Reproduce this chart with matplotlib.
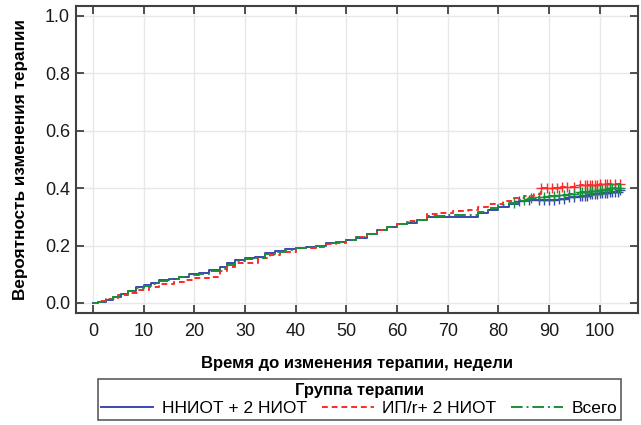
import numpy as np
import matplotlib
matplotlib.use("Agg")
import matplotlib.pyplot as plt

plt.rcParams['font.family'] = ['Liberation Sans', 'DejaVu Sans']

# cumulative probability of therapy change (step curves)
t_nnrti = [0, 1, 2.5, 4, 5.5, 7, 8.5, 10, 11.5, 13, 15, 17, 19, 21, 23, 25, 26.5, 28, 30, 32, 34,
           36, 38, 40, 42, 44, 46, 48, 50, 52, 54, 56, 58, 60, 62, 64, 66, 70, 74, 76, 78, 80, 82,
           84, 86, 90, 92, 94, 96, 98, 100, 102, 104]
p_nnrti = [0, 0.005, 0.012, 0.02, 0.03, 0.04, 0.055, 0.063, 0.07, 0.08, 0.085, 0.092, 0.1, 0.106,
           0.115, 0.125, 0.139, 0.148, 0.156, 0.16, 0.174, 0.18, 0.187, 0.19, 0.195, 0.2, 0.21,
           0.214, 0.22, 0.228, 0.24, 0.255, 0.265, 0.275, 0.28, 0.29, 0.30, 0.30, 0.30, 0.313,
           0.325, 0.335, 0.345, 0.356, 0.36, 0.36, 0.363, 0.368, 0.372, 0.378, 0.383, 0.388, 0.392]

t_pi = [0, 1.5, 3, 5, 7, 9, 11, 13, 16, 18, 20, 23, 25, 26.5, 28, 31, 32.5, 35, 37, 40, 42, 44,
        46, 48, 50, 52, 54, 56, 58, 60, 62, 64, 66, 68, 71, 74, 76, 78, 81, 83, 85, 87, 88.5, 92,
        96, 100, 104]
p_pi = [0, 0.006, 0.015, 0.028, 0.035, 0.045, 0.055, 0.065, 0.072, 0.08, 0.088, 0.09, 0.11,
        0.125, 0.14, 0.14, 0.156, 0.167, 0.178, 0.19, 0.193, 0.196, 0.205, 0.21, 0.22, 0.23,
        0.24, 0.255, 0.265, 0.275, 0.286, 0.29, 0.31, 0.315, 0.32, 0.325, 0.335, 0.345, 0.356,
        0.365, 0.373, 0.38, 0.40, 0.405, 0.41, 0.415, 0.415]

t_all = [0, 1, 2.5, 4, 5.5, 7, 8.5, 10, 11.5, 13, 15, 17, 19, 21, 23, 25, 26.5, 28, 30, 32, 34,
         36, 38, 40, 42, 44, 46, 48, 50, 52, 54, 56, 58, 60, 62, 64, 66, 70, 74, 76, 78, 80, 82,
         84, 86, 88, 90, 92, 94, 96, 98, 100, 102, 104]
p_all = [0, 0.005, 0.013, 0.022, 0.03, 0.04, 0.052, 0.06, 0.066, 0.076, 0.082, 0.09, 0.097,
         0.102, 0.112, 0.12, 0.134, 0.145, 0.152, 0.158, 0.171, 0.176, 0.184, 0.19, 0.194, 0.199,
         0.208, 0.213, 0.22, 0.229, 0.24, 0.255, 0.265, 0.275, 0.282, 0.29, 0.302, 0.305, 0.308,
         0.318, 0.33, 0.34, 0.35, 0.36, 0.365, 0.37, 0.372, 0.375, 0.38, 0.385, 0.39, 0.395,
         0.4, 0.402]

# censoring times
c_nnrti = [84, 86, 88, 89, 90, 91, 92, 93, 94, 95, 96, 96.5, 97, 97.5, 98, 98.5, 99, 99.5, 100,
           100.5, 101, 101.5, 102, 102.5, 103, 103.5, 104]
c_pi = [88.5, 89.5, 90.5, 91.5, 92.5, 93.5, 95, 96, 97, 97.5, 98, 98.5, 99, 99.5, 100, 101,
        101.5, 102, 103, 104]
c_all = [83, 85, 86.5, 88, 89, 90, 91, 92, 93, 94, 95, 96, 96.5, 97, 97.5, 98, 98.5, 99, 99.5,
         100, 100.5, 101, 101.5, 102, 102.5, 103, 103.5, 104]

series = [
    ("ННИОТ + 2 НИОТ", t_nnrti, p_nnrti, c_nnrti, "#3b46b4", "-"),
    ("ИП/r+ 2 НИОТ", t_pi, p_pi, c_pi, "#ff2a2a", (0, (3, 2))),
    ("Всего", t_all, p_all, c_all, "#17903a", (0, (6, 2, 1, 2))),
]

fig = plt.figure(figsize=(6.41, 4.25), dpi=100)
ax = fig.add_axes([0.118, 0.2635, 0.877, 0.7225])

handles = []
for name, t, p, c, col, ls in series:
    h, = ax.step(t, p, where="post", color=col, linestyle=ls, linewidth=1.4, label=name)
    idx = np.searchsorted(t, c, side="right") - 1
    ax.plot(c, np.array(p)[idx], linestyle="none", marker="+", color=col,
            markersize=7, markeredgewidth=1.0)
    handles.append(h)

ax.set_xlim(-3.4, 107.5)
ax.set_ylim(-0.035, 1.035)
ax.set_xticks(np.arange(0, 101, 10))
ax.set_yticks(np.arange(0, 1.01, 0.2))
ax.set_yticklabels([f"{v:.1f}" for v in np.arange(0, 1.01, 0.2)])
ax.grid(True, color="#e8e8e8", linewidth=1.0)
ax.set_axisbelow(True)
ax.tick_params(direction="in", length=6, width=1.2, labelsize=13, colors="#333333",
               top=True, right=True, labelcolor="#1a1a1a")
ax.tick_params(axis="x", pad=7)
ax.tick_params(axis="y", pad=4)
for s in ax.spines.values():
    s.set_color("#404040")
    s.set_linewidth(1.5)

ax.set_xlabel("Время до изменения терапии, недели", fontsize=12, fontweight="bold", labelpad=12)
ax.set_ylabel("Вероятность изменения терапии", fontsize=12.3, fontweight="bold", labelpad=12)

leg = fig.legend(handles=handles, loc="lower left", ncol=3, mode="expand",
                 bbox_to_anchor=(89 / 641, -0.008, 541 / 641, 0.113),
                 title="Группа терапии", fontsize=12.5, handlelength=3.0,
                 frameon=True, fancybox=False, borderpad=0.2, handletextpad=0.5,
                 columnspacing=1.0, labelspacing=0.2)
leg.get_title().set_fontweight("bold")
leg.get_title().set_fontsize(12)
leg.get_frame().set_edgecolor("#333333")
leg.get_frame().set_linewidth(1.2)

fig.savefig("out.png", dpi=100)
